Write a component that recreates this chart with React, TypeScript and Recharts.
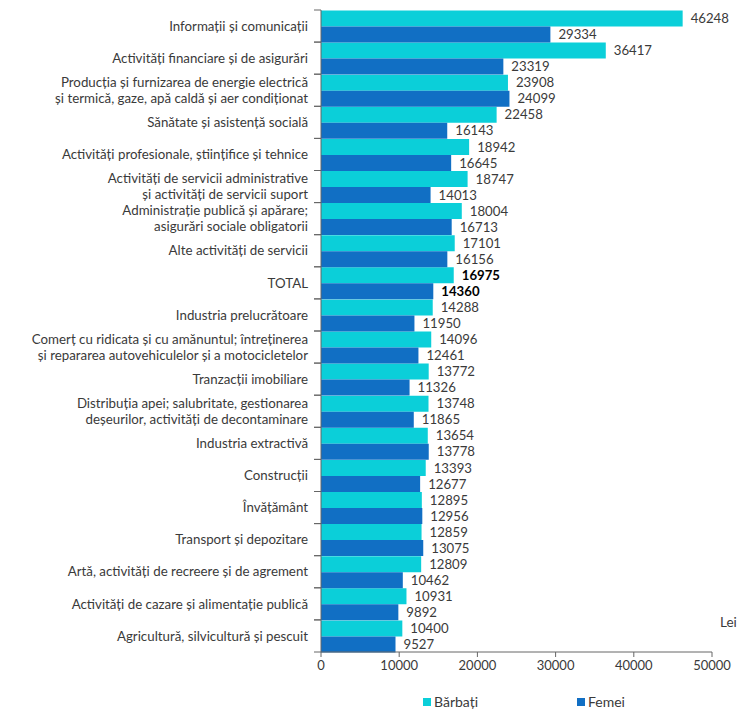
import { BarChart, Bar, XAxis, YAxis, Legend, LabelList, Label } from "recharts";

const categories = [
  "Informații și comunicații",
  "Activități financiare și de asigurări",
  "Producția și furnizarea de energie electrică\nși termică, gaze, apă caldă și aer condiționat",
  "Sănătate și asistență socială",
  "Activități profesionale, științifice și tehnice",
  "Activități de servicii administrative\nși activități de servicii suport",
  "Administrație publică și apărare;\nasigurări sociale obligatorii",
  "Alte activități de servicii",
  "TOTAL",
  "Industria prelucrătoare",
  "Comerț cu ridicata și cu amănuntul; întreținerea\nși repararea autovehiculelor și a motocicletelor",
  "Tranzacții imobiliare",
  "Distribuția apei; salubritate, gestionarea\ndeșeurilor, activități de decontaminare",
  "Industria extractivă",
  "Construcții",
  "Învățământ",
  "Transport și depozitare",
  "Artă, activități de recreere și de agrement",
  "Activități de cazare și alimentație publică",
  "Agricultură, silvicultură și pescuit",
];

const barbati = [
  46248, 36417, 23908, 22458, 18942, 18747, 18004, 17101, 16975, 14288,
  14096, 13772, 13748, 13654, 13393, 12895, 12859, 12809, 10931, 10400,
];

const femei = [
  29334, 23319, 24099, 16143, 16645, 14013, 16713, 16156, 14360, 11950,
  12461, 11326, 11865, 13778, 12677, 12956, 13075, 10462, 9892, 9527,
];

const xTicks = [0, 10000, 20000, 30000, 40000, 50000];

const data = categories.map((name, i) => ({
  name,
  barbati: barbati[i],
  femei: femei[i],
}));

const CYAN = "#0bcfd9";
const BLUE = "#116fc4";
const TEXT = "#3a3a3a";
const AXIS = "#666";
const FONT = "Lato, 'Open Sans', sans-serif";
const BAND = 642 / categories.length;

function CategoryTick(props: any) {
  const { x, y, payload } = props;
  const lines = String(payload.value).split("\n");
  const lh = 16;
  const start = y - ((lines.length - 1) * lh) / 2;
  return (
    <g>
      <line x1={x + 6} x2={x + 13} y1={y - BAND / 2} y2={y - BAND / 2} stroke={AXIS} />
      <line x1={x + 6} x2={x + 13} y1={y + BAND / 2} y2={y + BAND / 2} stroke={AXIS} />
      <text textAnchor="end" fill={TEXT} fontSize={13.3} fontFamily={FONT}>
        {lines.map((l, i) => (
          <tspan key={i} x={x} y={start + i * lh} dy="0.35em">
            {l}
          </tspan>
        ))}
      </text>
    </g>
  );
}

function ValueLabel(props: any) {
  const { x, y, width, height, value, index } = props;
  const bold = categories[index] === "TOTAL";
  return (
    <text
      x={x + width + 8}
      y={y + height / 2}
      dy="0.35em"
      fill={bold ? "#000" : TEXT}
      fontWeight={bold ? 700 : 400}
      fontSize={13.2}
      fontFamily={FONT}
    >
      {value}
    </text>
  );
}

function LegendContent(props: any) {
  const items = props.payload || [];
  return (
    <div style={{ position: "relative", width: 753, height: 36, fontFamily: FONT, fontSize: 14, color: TEXT }}>
      {items.map((it: any, i: number) => (
        <div
          key={i}
          style={{
            position: "absolute",
            left: i === 0 ? 423 : 577,
            top: 11,
            display: "flex",
            alignItems: "center",
          }}
        >
          <span style={{ width: 8, height: 8, background: it.color, display: "inline-block", marginRight: 3 }} />
          <span>{it.value}</span>
        </div>
      ))}
    </div>
  );
}

export default function App() {
  return (
    <div style={{ position: "absolute", left: 0, top: 0, width: 753, height: 718, background: "#fff" }}>
      <BarChart
        width={753}
        height={718}
        data={data}
        layout="vertical"
        margin={{ top: 10, right: 41, bottom: 0, left: 0 }}
        barCategoryGap={0.5}
        barGap={0}
      >
        <XAxis
          type="number"
          domain={[0, 50000]}
          ticks={xTicks}
          height={30}
          stroke={AXIS}
          tickSize={5}
          tickMargin={4}
          tick={{ fill: TEXT, fontSize: 13, fontFamily: FONT }}
        >
          <Label
            content={(p: any) => (
              <text
                x={p.viewBox.x + p.viewBox.width + 8}
                y={p.viewBox.y - 30}
                dy="0.35em"
                fill={TEXT}
                fontSize={13.5}
                fontFamily={FONT}
              >
                Lei
              </text>
            )}
          />
        </XAxis>
        <YAxis
          type="category"
          dataKey="name"
          width={321}
          stroke={AXIS}
          tickLine={false}
          tickMargin={0}
          tickSize={13}
          interval={0}
          tick={<CategoryTick />}
        />
        <Legend
          verticalAlign="bottom"
          wrapperStyle={{ height: 36, left: 0, width: 753 }}
          content={<LegendContent />}
        />
        <Bar dataKey="barbati" name="Bărbați" fill={CYAN} isAnimationActive={false}>
          <LabelList dataKey="barbati" content={<ValueLabel />} />
        </Bar>
        <Bar dataKey="femei" name="Femei" fill={BLUE} isAnimationActive={false}>
          <LabelList dataKey="femei" content={<ValueLabel />} />
        </Bar>
      </BarChart>
    </div>
  );
}
